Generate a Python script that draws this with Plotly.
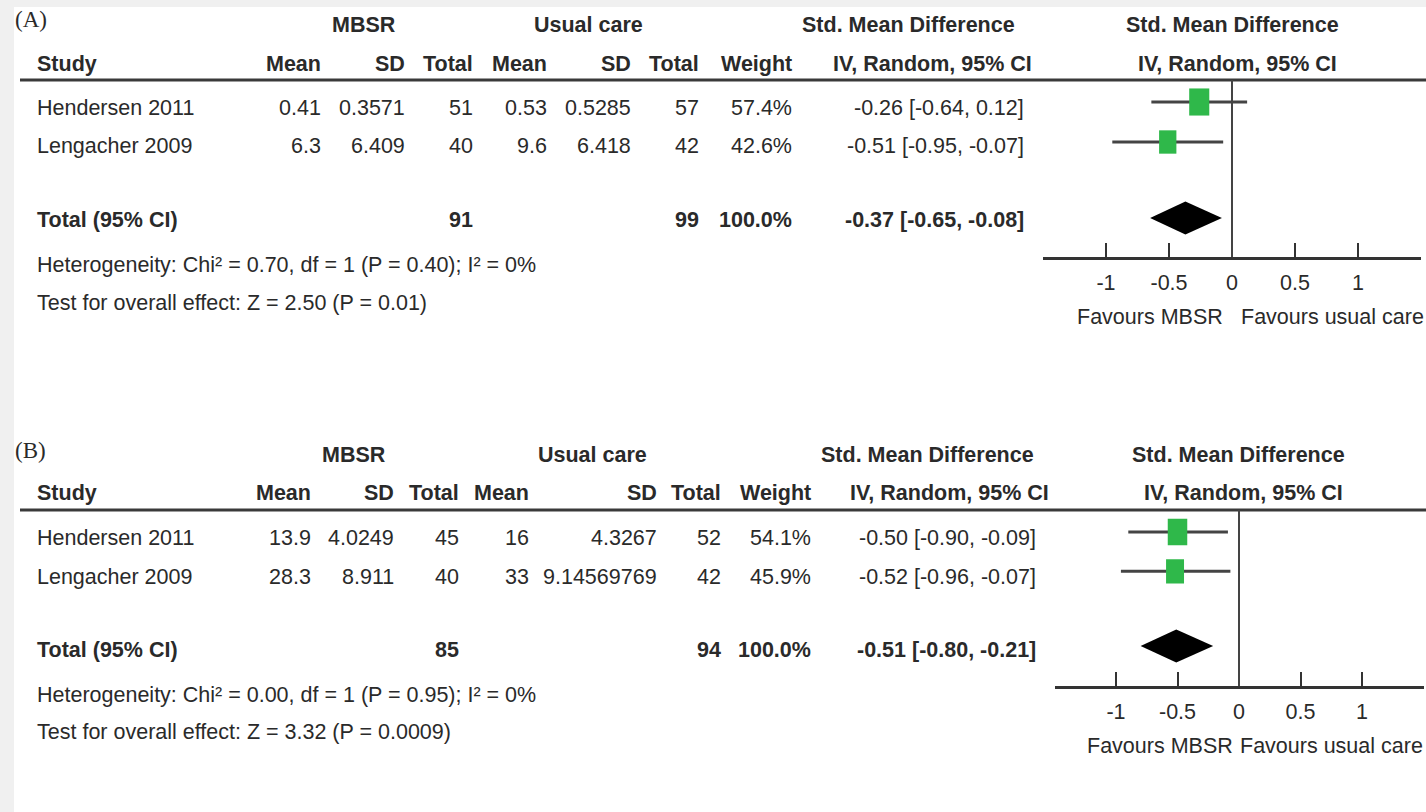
import plotly.graph_objects as go

W, H = 1426, 812

# ---------------- data ----------------
studies = ["Hendersen 2011", "Lengacher 2009"]

# Panel (A)
a_mbsr_mean = ["0.41", "6.3"]
a_mbsr_sd = ["0.3571", "6.409"]
a_mbsr_total = [51, 40]
a_uc_mean = ["0.53", "9.6"]
a_uc_sd = ["0.5285", "6.418"]
a_uc_total = [57, 42]
a_weight = [57.4, 42.6]
a_smd = [-0.26, -0.51]
a_lo = [-0.64, -0.95]
a_hi = [0.12, -0.07]
a_sum_mbsr_total = 91
a_sum_uc_total = 99
a_sum_weight = 100.0
a_sum_smd = -0.37
a_sum_lo = -0.65
a_sum_hi = -0.08
a_heterogeneity = "Heterogeneity: Chi² = 0.70, df = 1 (P = 0.40); I² = 0%"
a_overall = "Test for overall effect: Z = 2.50 (P = 0.01)"

# Panel (B)
b_mbsr_mean = ["13.9", "28.3"]
b_mbsr_sd = ["4.0249", "8.911"]
b_mbsr_total = [45, 40]
b_uc_mean = ["16", "33"]
b_uc_sd = ["4.3267", "9.14569769"]
b_uc_total = [52, 42]
b_weight = [54.1, 45.9]
b_smd = [-0.50, -0.52]
b_lo = [-0.90, -0.96]
b_hi = [-0.09, -0.07]
b_sum_mbsr_total = 85
b_sum_uc_total = 94
b_sum_weight = 100.0
b_sum_smd = -0.51
b_sum_lo = -0.80
b_sum_hi = -0.21
b_heterogeneity = "Heterogeneity: Chi² = 0.00, df = 1 (P = 0.95); I² = 0%"
b_overall = "Test for overall effect: Z = 3.32 (P = 0.0009)"

tick_vals = [-1, -0.5, 0, 0.5, 1]
tick_text = ["-1", "-0.5", "0", "0.5", "1"]
study_rows = [1, 2]
total_row = 3.9

# ---------------- style / layout ----------------
FONT = "Liberation Sans, Arial, sans-serif"
SERIF = "Liberation Serif, Times New Roman, serif"
FS = 21.5
TXT = "#2a2a2a"
GREEN = "#2fb84a"
LINE = "#444444"

panels = [
    dict(
        key="A", label="(A)",
        mbsr_mean=a_mbsr_mean, mbsr_sd=a_mbsr_sd, mbsr_total=a_mbsr_total,
        uc_mean=a_uc_mean, uc_sd=a_uc_sd, uc_total=a_uc_total, weight=a_weight,
        smd=a_smd, lo=a_lo, hi=a_hi,
        s_mt=a_sum_mbsr_total, s_ut=a_sum_uc_total, s_w=a_sum_weight,
        s_smd=a_sum_smd, s_lo=a_sum_lo, s_hi=a_sum_hi,
        het=a_heterogeneity, overall=a_overall,
        cols=dict(study=36, mbsr_mean=322, mbsr_sd=406, mbsr_total=474,
                  uc_mean=548, uc_sd=632, uc_total=700, weight=793, ci=1025),
        hdr=dict(mbsr=364, uc=588, smd=908, iv=932, fsmd=1232, fiv=1237),
        ys=dict(label=20, group=25, col=64, rule=80, rows=[108, 146], total=220,
                het=265, test=303, fav=317, axis=257),
        xdom=(1043, 1421), yrange=(4.875, 0.45),
        fav=dict(mbsr=1150, uc=1425),
    ),
    dict(
        key="B", label="(B)",
        mbsr_mean=b_mbsr_mean, mbsr_sd=b_mbsr_sd, mbsr_total=b_mbsr_total,
        uc_mean=b_uc_mean, uc_sd=b_uc_sd, uc_total=b_uc_total, weight=b_weight,
        smd=b_smd, lo=b_lo, hi=b_hi,
        s_mt=b_sum_mbsr_total, s_ut=b_sum_uc_total, s_w=b_sum_weight,
        s_smd=b_sum_smd, s_lo=b_sum_lo, s_hi=b_sum_hi,
        het=b_heterogeneity, overall=b_overall,
        cols=dict(study=36, mbsr_mean=312, mbsr_sd=395, mbsr_total=460,
                  uc_mean=530, uc_sd=658, uc_total=722, weight=812, ci=1037),
        hdr=dict(mbsr=354, uc=592, smd=927, iv=949, fsmd=1238, fiv=1243),
        ys=dict(label=450, group=455, col=493, rule=510, rows=[538, 577], total=650,
                het=695, test=732, fav=746, axis=686),
        xdom=(1054.5, 1423.5), yrange=(4.92, 0.44),
        fav=dict(mbsr=1160, uc=1424),
    ),
]

fig = go.Figure()
annotations = []
shapes = []


def txt(x, y, s, anchor="left", bold=False, size=FS, family=FONT):
    annotations.append(dict(
        x=x / W, y=1 - y / H, xref="paper", yref="paper",
        text=f"<b>{s}</b>" if bold else s, showarrow=False,
        xanchor=anchor, yanchor="middle", borderpad=0,
        font=dict(size=size, family=family, color=TXT),
    ))


def ci_text(est, lo, hi):
    return f"{est:.2f} [{lo:.2f}, {hi:.2f}]"


# background strips
shapes.append(dict(type="rect", xref="paper", yref="paper", x0=0, x1=14 / W, y0=0, y1=1,
                   fillcolor="#f0f0f0", line=dict(width=0), layer="below"))
shapes.append(dict(type="rect", xref="paper", yref="paper", x0=0, x1=1, y0=1 - 7 / H, y1=1,
                   fillcolor="#f0f0f0", line=dict(width=0), layer="below"))

for i, p in enumerate(panels):
    c, h, ys = p["cols"], p["hdr"], p["ys"]
    xa = "xaxis" if i == 0 else f"xaxis{i + 1}"
    ya = "yaxis" if i == 0 else f"yaxis{i + 1}"
    xr = "x" if i == 0 else f"x{i + 1}"
    yr = "y" if i == 0 else f"y{i + 1}"

    # headers
    txt(14, ys["label"], p["label"], family=SERIF, size=23)
    txt(h["mbsr"], ys["group"], "MBSR", anchor="center", bold=True)
    txt(h["uc"], ys["group"], "Usual care", anchor="center", bold=True)
    txt(h["smd"], ys["group"], "Std. Mean Difference", anchor="center", bold=True)
    txt(h["fsmd"], ys["group"], "Std. Mean Difference", anchor="center", bold=True)
    txt(c["study"], ys["col"], "Study", bold=True)
    for key, lab in [("mbsr_mean", "Mean"), ("mbsr_sd", "SD"), ("mbsr_total", "Total"),
                     ("uc_mean", "Mean"), ("uc_sd", "SD"), ("uc_total", "Total"),
                     ("weight", "Weight")]:
        txt(c[key], ys["col"], lab, anchor="right", bold=True)
    txt(h["iv"], ys["col"], "IV, Random, 95% CI", anchor="center", bold=True)
    txt(h["fiv"], ys["col"], "IV, Random, 95% CI", anchor="center", bold=True)

    shapes.append(dict(type="line", xref="paper", yref="paper", x0=20 / W, x1=1,
                       y0=1 - ys["rule"] / H, y1=1 - ys["rule"] / H,
                       line=dict(color="#3a3a3a", width=3)))

    # study rows
    for j, s in enumerate(studies):
        y = ys["rows"][j]
        txt(c["study"], y, s)
        txt(c["mbsr_mean"], y, p["mbsr_mean"][j], anchor="right")
        txt(c["mbsr_sd"], y, p["mbsr_sd"][j], anchor="right")
        txt(c["mbsr_total"], y, str(p["mbsr_total"][j]), anchor="right")
        txt(c["uc_mean"], y, p["uc_mean"][j], anchor="right")
        txt(c["uc_sd"], y, p["uc_sd"][j], anchor="right")
        txt(c["uc_total"], y, str(p["uc_total"][j]), anchor="right")
        txt(c["weight"], y, f"{p['weight'][j]:.1f}%", anchor="right")
        txt(c["ci"], y, ci_text(p["smd"][j], p["lo"][j], p["hi"][j]), anchor="right")

    # total row
    yt = ys["total"]
    txt(c["study"], yt, "Total (95% CI)", bold=True)
    txt(c["mbsr_total"], yt, str(p["s_mt"]), anchor="right", bold=True)
    txt(c["uc_total"], yt, str(p["s_ut"]), anchor="right", bold=True)
    txt(c["weight"], yt, f"{p['s_w']:.1f}%", anchor="right", bold=True)
    txt(c["ci"], yt, ci_text(p["s_smd"], p["s_lo"], p["s_hi"]), anchor="right", bold=True)
    txt(c["study"], ys["het"], p["het"])
    txt(c["study"], ys["test"], p["overall"])
    txt(p["fav"]["mbsr"], ys["fav"], "Favours MBSR", anchor="center")
    txt(p["fav"]["uc"], ys["fav"], "Favours usual care", anchor="right")

    # forest axes
    x0, x1 = p["xdom"]
    xrng = (-1.5, 1.5)
    xscale = (x1 - x0) / (xrng[1] - xrng[0])
    yscale = (ys["axis"] - ys["rule"]) / (p["yrange"][0] - p["yrange"][1])

    for j in range(len(studies)):
        r = study_rows[j]
        fig.add_trace(go.Scatter(x=[p["lo"][j], p["hi"][j]], y=[r, r], mode="lines",
                                 line=dict(color=LINE, width=3), xaxis=xr, yaxis=yr,
                                 showlegend=False, hoverinfo="skip"))
        w_px = 2.65 * p["weight"][j] ** 0.5
        h_px = 1.35 * w_px
        hw, hh = w_px / 2 / xscale, h_px / 2 / yscale
        e = p["smd"][j]
        fig.add_trace(go.Scatter(x=[e - hw, e + hw, e + hw, e - hw, e - hw],
                                 y=[r - hh, r - hh, r + hh, r + hh, r - hh],
                                 mode="lines", fill="toself", fillcolor=GREEN,
                                 line=dict(width=0, color=GREEN), xaxis=xr, yaxis=yr,
                                 showlegend=False, hoverinfo="skip"))
    dh = 16.5 / yscale
    fig.add_trace(go.Scatter(x=[p["s_lo"], p["s_smd"], p["s_hi"], p["s_smd"], p["s_lo"]],
                             y=[total_row, total_row - dh, total_row, total_row + dh, total_row],
                             mode="lines", fill="toself", fillcolor="black",
                             line=dict(width=0, color="black"), xaxis=xr, yaxis=yr,
                             showlegend=False, hoverinfo="skip"))

    shapes.append(dict(type="line", xref=xr, yref=f"{yr} domain", x0=0, x1=0, y0=0, y1=1,
                       line=dict(color=LINE, width=2)))

    fig.layout[xa] = dict(
        domain=[x0 / W, x1 / W], range=list(xrng), anchor=yr,
        showline=True, linecolor="#333", linewidth=2.5,
        ticks="inside", ticklen=14, tickwidth=2, tickcolor="#333",
        tickvals=tick_vals, ticktext=tick_text, ticklabelstandoff=4,
        tickfont=dict(size=FS, family=FONT, color=TXT),
        showgrid=False, zeroline=False, fixedrange=True,
    )
    fig.layout[ya] = dict(
        domain=[1 - ys["axis"] / H, 1 - ys["rule"] / H], range=list(p["yrange"]),
        anchor=xr, visible=False, showgrid=False, zeroline=False, fixedrange=True,
    )

fig.update_layout(
    width=W, height=H, margin=dict(l=0, r=0, t=0, b=0),
    paper_bgcolor="white", plot_bgcolor="rgba(0,0,0,0)",
    annotations=annotations, shapes=shapes, showlegend=False,
)

fig.write_html("out.html", config=dict(displayModeBar=False),
               post_script="document.body.style.margin='0';document.body.style.overflow='hidden';")
